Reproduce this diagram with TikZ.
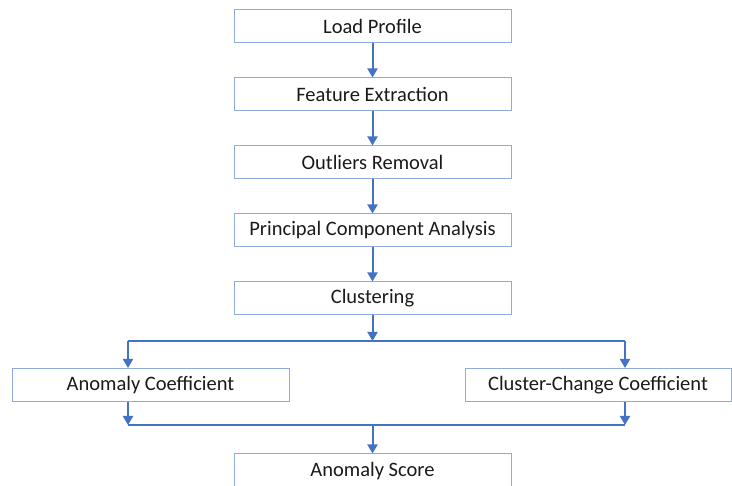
\documentclass[tikz,border=0pt]{standalone}
\usepackage{fontspec}
\setmainfont{Carlito}
\usetikzlibrary{arrows.meta,positioning}
\definecolor{arrowblue}{HTML}{4472C4}
\definecolor{boxblue}{HTML}{8FAADC}
\definecolor{textgray}{HTML}{1A1A1A}
\tikzset{
	stage/.style={draw=boxblue, line width=1, minimum width=277, minimum height=33, inner sep=0, text=textgray, font=\fontsize{20.5}{24}\selectfont},
	flow/.style={arrowblue, line width=2, -{Triangle[width=10,length=9]}},
	rail/.style={arrowblue, line width=2}
}
\begin{document}
\begin{tikzpicture}[x=1pt,y=-1pt]
	
	\useasboundingbox (0,0) rectangle (732,486);
	
	\node[stage] (load) at (372.5,26) {Load Profile};
	\node[stage] (feature) at (372.5,94.5) {Feature Extraction};
	\node[stage] (outliers) at (372.5,162.5) {Outliers Removal};
	\node[stage] (pca) at (372.5,230.5) {Principal Component Analysis};
	\node[stage] (cluster) at (372.5,298.5) {Clustering};
	\node[stage] (anomcoef) at (150.5,385) {Anomaly Coefficient};
	\node[stage, minimum width=266] (changecoef) at (598,385) {Cluster-Change Coefficient};
	\node[stage, minimum height=34] (score) at (372.5,471) {Anomaly Score};
	
	\coordinate (split) at (372.5,341);
	\coordinate (splitL) at (128,341);
	\coordinate (splitR) at (625,341);
	\coordinate (merge) at (372.5,425);
	\coordinate (mergeL) at (128,425);
	\coordinate (mergeR) at (625,425);
	
	\draw[flow] (load) -- (feature);
	\draw[flow] (feature) -- (outliers);
	\draw[flow] (outliers) -- (pca);
	\draw[flow] (pca) -- (cluster);
	\draw[flow] (cluster) -- (split);
	
	\draw[rail] (splitL) -- (splitR);
	\draw[flow] (splitL) -- (splitL |- anomcoef.north);
	\draw[flow] (splitR) -- (splitR |- changecoef.north);
	
	\draw[flow] (mergeL |- anomcoef.south) -- (mergeL);
	\draw[flow] (mergeR |- changecoef.south) -- (mergeR);
	\draw[rail] (mergeL) -- (mergeR);
	\draw[flow] (merge) -- (score);
	
\end{tikzpicture}
\end{document}
